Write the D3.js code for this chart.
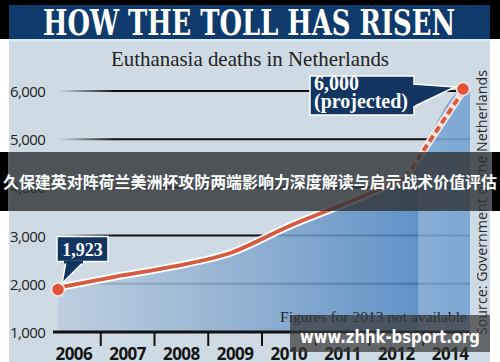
<!DOCTYPE html>
<html>
<head>
<meta charset="utf-8">
<script src="https://cdn.jsdelivr.net/npm/d3@7"></script>
<style>
body{margin:0;background:#fff;}
svg{display:block;}
</style>
</head>
<body>
<svg id="chart"></svg>
<script>
const width=500;
const height=362;

// data
const years=["2006","2007","2008","2009","2010","2011","2012","2014"];
const deaths=[1923,2150,2360,2650,3200,3680,4190,6000];
const yTicks=[1000,2000,3000,4000,5000,6000];
const firstLabel="1,923";
const lastLabel=["6,000","(projected)"];

const svg=d3.select("#chart").attr("width",width).attr("height",height);
const defs=svg.append("defs");

const x=d3.scaleBand().domain(years).range([47,477]);
const xp=d3.scalePoint().domain(years).range([58,463]);
const y=d3.scaleLinear().domain([1000,6000]).range([332,91]);
const fmt=d3.format(",");

const data=years.map((d,i)=>({year:d,value:deaths[i]}));

// gradients
const gridGrad=defs.append("linearGradient").attr("id","gridGrad")
  .attr("gradientUnits","userSpaceOnUse").attr("x1",58).attr("x2",115).attr("y1",0).attr("y2",0);
gridGrad.append("stop").attr("offset",0).attr("stop-color","#111").attr("stop-opacity",0);
gridGrad.append("stop").attr("offset",1).attr("stop-color","#111").attr("stop-opacity",1);

const areaGrad=defs.append("linearGradient").attr("id","areaGrad")
  .attr("gradientUnits","userSpaceOnUse").attr("x1",58).attr("x2",470).attr("y1",0).attr("y2",0);
areaGrad.append("stop").attr("offset",0).attr("stop-color","#bccede");
areaGrad.append("stop").attr("offset",0.45).attr("stop-color","#88aacf");
areaGrad.append("stop").attr("offset",1).attr("stop-color","#3c7cc0");

// frame
svg.append("rect").attr("x",0).attr("y",0).attr("width",width).attr("height",39).attr("fill","#000");
svg.append("rect").attr("x",9).attr("y",5).attr("width",481).attr("height",34).attr("fill","#0f3b6c");
svg.append("rect").attr("x",9).attr("y",39).attr("width",481).attr("height",height-39).attr("fill","#cfdbe4");
svg.append("rect").attr("x",9).attr("y",39).attr("width",481).attr("height",3).attr("fill","#dce8f0");

svg.append("text").attr("x",249).attr("y",35).attr("text-anchor","middle")
  .attr("font-family","DejaVu Serif").attr("font-weight","bold").attr("font-size",36)
  .attr("fill","#fff").attr("textLength",412).attr("lengthAdjust","spacingAndGlyphs")
  .text("HOW THE TOLL HAS RISEN");

svg.append("text").attr("x",250).attr("y",66).attr("text-anchor","middle")
  .attr("font-family","Liberation Serif").attr("font-size",21)
  .attr("fill","#222").attr("textLength",278).attr("lengthAdjust","spacingAndGlyphs")
  .text("Euthanasia deaths in Netherlands");

// gridlines
svg.append("g").selectAll("line")
  .data(yTicks.slice(1))
  .enter().append("line")
  .attr("x1",58).attr("x2",470)
  .attr("y1",d=>y(d)).attr("y2",d=>y(d))
  .attr("stroke","url(#gridGrad)").attr("stroke-width",2);

// area under line, extended to the right edge of the last column
const areaData=data.concat([{year:null,value:deaths[deaths.length-1],xx:470}]);
const area=d3.area()
  .x(d=>d.xx!==undefined?d.xx:xp(d.year))
  .y0(y(1000)).y1(d=>y(d.value))
  .curve(d3.curveMonotoneX);

defs.append("clipPath").attr("id","areaClip").append("path").attr("d",area(areaData));

svg.append("path").attr("d",area(areaData)).attr("fill","url(#areaGrad)").attr("opacity",0.85);

// lighter column where 2013 is missing
svg.append("rect").attr("clip-path","url(#areaClip)")
  .attr("x",x("2014")-5).attr("y",y(6000)).attr("width",470-x("2014")+5).attr("height",y(1000)-y(6000))
  .attr("fill","#fff").attr("opacity",0.25);

// axis
svg.append("line").attr("x1",53).attr("x2",470).attr("y1",y(1000)).attr("y2",y(1000))
  .attr("stroke","#111").attr("stroke-width",3);
svg.append("g").selectAll("line")
  .data(years.slice(1))
  .enter().append("line")
  .attr("x1",d=>x(d)).attr("x2",d=>x(d))
  .attr("y1",y(1000)).attr("y2",y(1000)+14)
  .attr("stroke","#111").attr("stroke-width",2);

svg.append("g").selectAll("text")
  .data(years)
  .enter().append("text")
  .attr("x",d=>x(d)+x.bandwidth()/2).attr("y",360)
  .attr("text-anchor","middle")
  .attr("font-family","Open Sans").attr("font-weight","bold").attr("font-size",17)
  .attr("letter-spacing",-0.5).attr("fill","#151515")
  .text(d=>d);

svg.append("g").selectAll("text")
  .data(yTicks)
  .enter().append("text")
  .attr("x",10).attr("y",d=>y(d)+6)
  .attr("font-family","Open Sans").attr("font-size",15)
  .attr("letter-spacing",-0.6).attr("fill","#222")
  .text(d=>fmt(d));

// line
const solid=data.slice(0,7);
const dashed=data.slice(6);
const line=d3.line().x(d=>xp(d.year)).y(d=>y(d.value)).curve(d3.curveMonotoneX);

svg.append("path").attr("d",line(solid)).attr("fill","none").attr("stroke","#fff").attr("stroke-width",7.5).attr("stroke-linecap","round");
svg.append("path").attr("d",line(dashed)).attr("fill","none").attr("stroke","#f4e6e0").attr("stroke-width",7.5).attr("stroke-linecap","round");
svg.append("path").attr("d",line(solid)).attr("fill","none").attr("stroke","#d55a3f").attr("stroke-width",3.8);
svg.append("path").attr("d",line(dashed)).attr("fill","none").attr("stroke","#d55a3f").attr("stroke-width",4)
  .attr("stroke-dasharray","7,4");

svg.append("g").selectAll("circle")
  .data([data[0],data[data.length-1]])
  .enter().append("circle")
  .attr("cx",d=>xp(d.year)).attr("cy",(d,i)=>y(d.value)+(i?-2:2))
  .attr("r",6.5).attr("fill","#e0523a").attr("stroke","#f6e8e4").attr("stroke-width",1.5);

// callouts
const p0=[xp(years[0]),y(deaths[0])];
const c1=svg.append("g");
c1.append("path")
  .attr("d","M"+(p0[0]+8)+","+(p0[1]-26)+"L"+(p0[0]+4)+","+(p0[1]-4)+"L"+(p0[0]+26)+","+(p0[1]-26)+"Z")
  .attr("fill","#123562").attr("stroke","#fff").attr("stroke-width",1.5);
c1.append("rect").attr("x",p0[0]-1).attr("y",p0[1]-51).attr("width",51).attr("height",25)
  .attr("fill","#123562").attr("stroke","#fff").attr("stroke-width",1.5);
c1.append("rect").attr("x",p0[0]+6).attr("y",p0[1]-27).attr("width",19).attr("height",3).attr("fill","#123562");
c1.append("text").attr("x",p0[0]+24.5).attr("y",p0[1]-32).attr("text-anchor","middle")
  .attr("font-family","Liberation Serif").attr("font-weight","bold").attr("font-size",18)
  .attr("fill","#fff").text(firstLabel);

const p1=[xp(years[7]),y(deaths[7])];
const c2=svg.append("g");
c2.append("path")
  .attr("d","M"+(p1[0]-50)+","+(p1[1]-7)+"L"+(p1[0]-8)+","+(p1[1]-4)+"L"+(p1[0]-50)+","+(p1[1]+16)+"Z")
  .attr("fill","#123562").attr("stroke","#fff").attr("stroke-width",1.5);
c2.append("rect").attr("x",p1[0]-153).attr("y",p1[1]-15).attr("width",104).attr("height",39)
  .attr("fill","#123562").attr("stroke","#fff").attr("stroke-width",1.5);
c2.append("rect").attr("x",p1[0]-52).attr("y",p1[1]-6).attr("width",4).attr("height",21).attr("fill","#123562");
c2.selectAll("text").data(lastLabel).enter().append("text")
  .attr("x",p1[0]-149).attr("y",(d,i)=>p1[1]-1+i*18)
  .attr("font-family","Liberation Serif").attr("font-weight","bold").attr("font-size",20)
  .attr("fill","#fff").text(d=>d);

// notes
svg.append("text").attr("x",280).attr("y",322)
  .attr("font-family","Liberation Serif").attr("font-size",15)
  .attr("fill","#222").attr("textLength",187).attr("lengthAdjust","spacingAndGlyphs")
  .text("Figures for 2013 not available");

svg.append("text").attr("transform","translate(487,335) rotate(-90)")
  .attr("font-family","Open Sans").attr("font-size",15)
  .attr("fill","#2a2a2a").attr("textLength",265).attr("lengthAdjust","spacingAndGlyphs")
  .text("Source: Government of the Netherlands");

// overlay banner
svg.append("rect").attr("x",0).attr("y",152).attr("width",width).attr("height",59)
  .attr("fill","#303438").attr("opacity",0.82);
svg.append("rect").attr("x",0).attr("y",152).attr("width",8).attr("height",59).attr("fill","#000");
svg.append("rect").attr("x",492).attr("y",152).attr("width",8).attr("height",59).attr("fill","#000");
svg.append("text").attr("x",250).attr("y",188).attr("text-anchor","middle")
  .attr("font-family","Noto Sans CJK SC").attr("font-weight","bold").attr("font-size",16)
  .attr("fill","#fff").attr("textLength",494).attr("lengthAdjust","spacingAndGlyphs")
  .text("久保建英对阵荷兰美洲杯攻防两端影响力深度解读与启示战术价值评估");

// watermark
svg.append("rect").attr("x",290).attr("y",315).attr("width",200).attr("height",37)
  .attr("fill","#3a3a3a").attr("opacity",0.72);
svg.append("text").attr("x",300).attr("y",343)
  .attr("font-family","DejaVu Sans").attr("font-weight","bold").attr("font-size",17)
  .attr("fill","#fff").attr("textLength",180).attr("lengthAdjust","spacingAndGlyphs")
  .text("www.zhhk-bsport.org");
</script>
</body>
</html>
